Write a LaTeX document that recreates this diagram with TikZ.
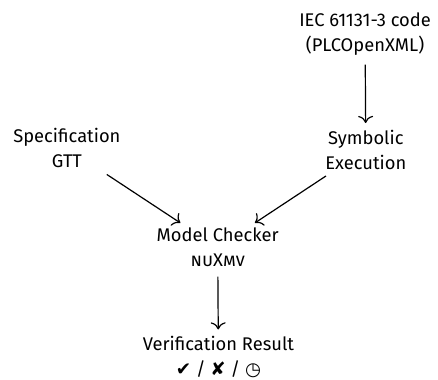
\documentclass[tikz,border=0pt]{standalone}
\usepackage{fontspec}
\setmainfont{Fira Sans}
\newfontfamily\symfont{DejaVu Sans}
\usepackage{tikz}
\usetikzlibrary{arrows.meta,positioning}

\begin{document}
\begin{tikzpicture}[
  stage/.style={align=center, inner sep=2pt,
                font=\fontsize{13.8}{18.8}\selectfont},
  arr/.style={-{To[scale=1.5]}, line width=0.9pt, shorten >=3pt, shorten <=5pt}
]
  \useasboundingbox (0,0) rectangle (11.59,-10.05);

  % inputs
  \node[stage] (iec)  at (9.66,-0.89) {IEC 61131-3 code\\(PLCOpenXML)};
  \node[stage] (sym)  at (9.68,-3.96) {Symbolic\\Execution};
  \node[stage] (spec) at (1.77,-3.92) {Specification\\GTT};

  % checking
  \node[stage] (mc) at (5.76,-6.55) {Model Checker\\\textsc{nuXmv}};
  \node[stage] (vr) at (5.78,-9.45)
    {Verification Result\\{\symfont ✔} / {\symfont ✘} / {\symfont ◷}};

  % arrows
  \draw[arr] (iec) -- (sym);
  \draw[arr] (spec) -- (mc);
  \draw[arr] (sym) -- (mc);
  \draw[arr] (mc) -- (vr);
\end{tikzpicture}
\end{document}
